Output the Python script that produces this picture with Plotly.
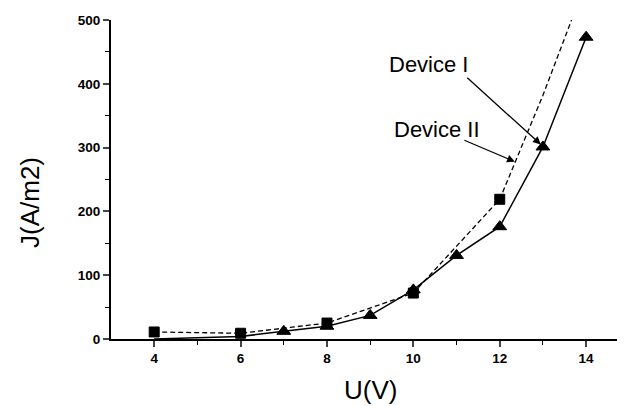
import plotly.graph_objects as go

# Data
u_dev1 = [4, 6, 7, 8, 9, 10, 11, 12, 13, 14]
j_dev1 = [0, 4, 12, 20, 37, 77, 131, 176, 301, 473]
m_dev1 = [0, 0, 12, 12, 12, 12, 12, 12, 12, 12]

u_dev2 = [4, 6, 8, 10, 12, 13, 14]
j_dev2 = [11, 9, 25, 72, 219, 382, 560]
m_dev2 = [10, 10, 10, 10, 10, 0, 0]

x_ticks = [4, 6, 8, 10, 12, 14]
y_ticks = [0, 100, 200, 300, 400, 500]

FONT = "Liberation Sans, Arial, sans-serif"

fig = go.Figure()
fig.add_trace(go.Scatter(
    x=u_dev2, y=j_dev2, mode="lines+markers", name="Device II",
    line=dict(color="black", width=1.3, dash="5px,3px"),
    marker=dict(symbol="square", size=m_dev2, color="#000000", opacity=1,
                line=dict(color="#000000", width=1)),
))
fig.add_trace(go.Scatter(
    x=u_dev1, y=j_dev1, mode="lines+markers", name="Device I",
    line=dict(color="black", width=1.5),
    marker=dict(symbol="triangle-up", size=m_dev1, color="#000000", opacity=1,
                line=dict(color="#000000", width=1)),
))

# Page has an 8px body margin; figure is offset by 8px
W, H = 617, 398
L, R, T, B = 103, 0, 12, 67

fig.update_layout(
    width=W, height=H,
    margin=dict(l=L, r=R, t=T, b=B, autoexpand=False),
    paper_bgcolor="white", plot_bgcolor="white",
    showlegend=False,
    font=dict(family=FONT, color="black"),
    xaxis=dict(
        range=[3, 14.9], tickvals=x_ticks, ticks="outside", ticklen=6,
        tickwidth=1.5, showline=True, linewidth=2, linecolor="black",
        showgrid=False, zeroline=False, automargin=False,
        tickfont=dict(size=13.5, family=FONT, weight="bold"),
        minor=dict(tickvals=[5, 7, 9, 11, 13], ticks="outside", ticklen=4,
                   tickwidth=1.2, tickcolor="black"),
    ),
    yaxis=dict(
        range=[0, 500], tickvals=y_ticks, ticks="outside", ticklen=6,
        tickwidth=1.5, showline=True, linewidth=2, linecolor="black",
        showgrid=False, zeroline=False, automargin=False,
        tickfont=dict(size=13.5, family=FONT, weight="bold"),
        minor=dict(tickvals=[50, 150, 250, 350, 450], ticks="outside",
                   ticklen=4, tickwidth=1.2, tickcolor="black"),
    ),
)

fig.add_annotation(x=12.95, y=305, xref="x", yref="y",
                   ax=-75, ay=-68, text="", showarrow=True, arrowhead=2,
                   arrowsize=1.2, arrowwidth=1.3, arrowcolor="black")
fig.add_annotation(x=12.35, y=278, xref="x", yref="y",
                   ax=-52, ay=-22, text="", showarrow=True, arrowhead=2,
                   arrowsize=1.2, arrowwidth=1.3, arrowcolor="black")

# Text annotations positioned by page pixel (converted to paper coords)
texts = [
    ("Device I", 428, 65, 22, 0),
    ("Device II", 437, 129, 22, 0),
    ("U(V)", 370, 390, 26, 0),
    ("J(A/m2)", 30, 203, 26, -90),
]
pw, ph = 625 - 111, 339 - 20
for txt, px, py, fs, ang in texts:
    fig.add_annotation(
        x=(px - 111) / pw, y=1 - (py - 20) / ph, xref="paper", yref="paper",
        text=txt, showarrow=False, textangle=ang,
        xanchor="center", yanchor="middle",
        font=dict(size=fs, family=FONT),
    )

fig.write_html("out.html")
